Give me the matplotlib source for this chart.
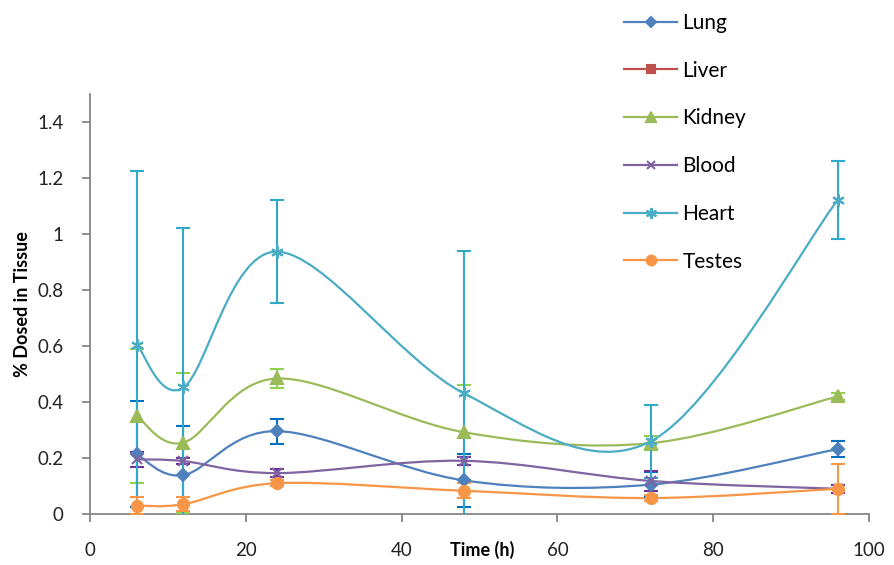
import numpy as np
import matplotlib
matplotlib.use("Agg")
import matplotlib.pyplot as plt
from matplotlib.path import Path
from matplotlib.patches import PathPatch

plt.rcParams['font.family'] = ['Lato', 'DejaVu Sans']

# sampling times (h)
times = [6, 12, 24, 48, 72, 96]

# % dosed in tissue, with error bars
lung = [0.214, 0.139, 0.296, 0.120, 0.105, 0.232]
lung_err = [0.19, 0.175, 0.045, 0.095, 0.045, 0.03]
liver = [np.nan] * 6
liver_err = [np.nan] * 6
kidney = [0.35, 0.255, 0.484, 0.292, 0.253, 0.42]
kidney_err = [0.24, 0.25, 0.035, 0.17, 0.025, 0.012]
blood = [0.195, 0.189, 0.146, 0.19, 0.118, 0.09]
blood_err = [0.028, 0.012, 0.015, 0.015, 0.035, 0.015]
heart = [0.605, 0.452, 0.937, 0.431, 0.26, 1.122]
heart_err = [0.62, 0.57, 0.185, 0.51, 0.13, 0.14]
testes = [0.03, 0.035, 0.11, 0.083, 0.057, 0.09]
testes_err = [0.03, 0.025, 0.01, 0.027, 0.01, 0.09]

series = [
    ("Lung", lung, lung_err, '#4F81BD', '#0070C0', 'D', 6),
    ("Liver", liver, liver_err, '#C0504D', '#C0504D', 's', 7),
    ("Kidney", kidney, kidney_err, '#9BBB59', '#92D050', '^', 8),
    ("Blood", blood, blood_err, '#8064A2', '#7030A0', 'x', 7),
    ("Heart", heart, heart_err, '#4BACC6', '#31A9C8', (6, 2, 0), 9),
    ("Testes", testes, testes_err, '#F79646', '#F79646', 'o', 8),
]


# Excel-like smoothed line: cubic bezier through the points
def smooth_path(x, y):
    x = np.asarray(x, float)
    y = np.asarray(y, float)
    pts = np.column_stack([x, y])
    n = len(pts)
    verts = [pts[0]]
    codes = [Path.MOVETO]
    for i in range(n - 1):
        p0 = pts[max(i - 1, 0)]
        p1 = pts[i]
        p2 = pts[i + 1]
        p3 = pts[min(i + 2, n - 1)]
        c1 = p1 + (p2 - p0) / 6.0
        c2 = p2 - (p3 - p1) / 6.0
        verts += [c1, c2, p2]
        codes += [Path.CURVE4] * 3
    return Path(verts, codes)


fig = plt.figure(figsize=(8.94, 5.65), dpi=100)
ax = fig.add_axes([90 / 894, 1 - 514 / 565, 779 / 894, 420 / 565])

for name, vals, errs, color, ecolor, marker, ms in series:
    if not np.all(np.isnan(vals)):
        ax.add_patch(PathPatch(smooth_path(times, vals), facecolor='none',
                               edgecolor=color, lw=1.6, zorder=2))
        ax.errorbar(times, vals, yerr=errs, fmt='none', ecolor=ecolor,
                    elinewidth=1.5, capsize=5, capthick=1.5, zorder=3)
    ax.plot(times, vals, linestyle='none', marker=marker, markersize=ms,
            color=color, markeredgewidth=1.5, zorder=4)
    # proxy for legend
    ax.plot([], [], color=color, lw=1.6, marker=marker, markersize=ms - 1,
            markeredgewidth=1.5, label=name)

ax.set_xlim(0, 100)
ax.set_ylim(0, 1.5)
ax.set_xticks([0, 20, 40, 60, 80, 100])
ax.set_yticks([0, 0.2, 0.4, 0.6, 0.8, 1, 1.2, 1.4])
ax.set_yticklabels(['0', '0.2', '0.4', '0.6', '0.8', '1', '1.2', '1.4'])

for s in ['top', 'right']:
    ax.spines[s].set_visible(False)
for s in ['left', 'bottom']:
    ax.spines[s].set_color('#868686')
    ax.spines[s].set_linewidth(1.3)
ax.tick_params(direction='out', length=6, width=1.3, color='#868686',
               labelsize=13.5, labelcolor='#222222')
ax.tick_params(axis='y', pad=13)
ax.tick_params(axis='x', pad=14)

ax.set_xlabel('Time (h)', fontsize=13, fontweight='bold')
ax.xaxis.set_label_coords(0.503, -0.086)
ax.xaxis.label.set_va('center')
ax.set_ylabel('% Dosed in Tissue', fontsize=13, fontweight='bold')
ax.yaxis.set_label_coords(-0.087, 0.5)
ax.yaxis.label.set_va('center')

handles, labels = ax.get_legend_handles_labels()
fig.legend(handles[-6:], labels[-6:], loc='upper left',
           bbox_to_anchor=(624 / 894, 1 - 13 / 565), frameon=False,
           fontsize=15, labelspacing=1.33, handlelength=2.55,
           handletextpad=0.25, borderpad=0, borderaxespad=0)

fig.savefig('out.png', dpi=100)
